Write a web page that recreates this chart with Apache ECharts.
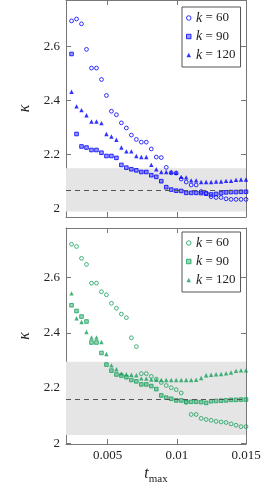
<!DOCTYPE html>
<html>
<head>
<meta charset="utf-8">
<script src="https://cdn.jsdelivr.net/npm/echarts@6/dist/echarts.min.js"></script>
<style>html,body{margin:0;padding:0;background:#fff;}#c{width:268px;height:498px;}</style>
</head>
<body>
<div id="c"></div>
<script>
// ---- data ----
const tmax = [0.00240,0.00276,0.00312,0.00348,0.00384,0.00420,0.00456,0.00492,0.00528,0.00564,
  0.00600,0.00636,0.00672,0.00708,0.00744,0.00780,0.00816,0.00852,0.00888,0.00924,
  0.00960,0.00996,0.01032,0.01068,0.01104,0.01140,0.01176,0.01212,0.01248,0.01284,
  0.01320,0.01356,0.01392,0.01428,0.01464,0.01500];
const topK60 = [2.693,2.700,2.682,2.588,2.519,2.519,2.477,2.418,2.360,2.347,2.317,2.298,2.272,2.256,2.246,2.246,2.221,2.191,2.189,2.153,2.133,2.132,2.110,2.099,2.088,2.088,2.064,2.058,2.045,2.042,2.042,2.037,2.035,2.035,2.035,2.035];
const topK90 = [2.571,2.276,2.230,2.226,2.217,2.217,2.207,2.195,2.195,2.188,2.162,2.152,2.146,2.142,2.136,2.136,2.124,2.118,2.102,2.080,2.071,2.067,2.066,2.059,2.059,2.059,2.058,2.056,2.053,2.055,2.058,2.061,2.062,2.062,2.063,2.063];
const topK120 = [2.432,2.378,2.364,2.345,2.322,2.322,2.316,2.276,2.267,2.255,2.226,2.212,2.212,2.195,2.191,2.191,2.162,2.146,2.136,2.136,2.136,2.133,2.118,2.116,2.105,2.105,2.099,2.099,2.099,2.101,2.101,2.103,2.103,2.107,2.108,2.108];
const botK60 = [2.721,2.713,2.670,2.648,2.580,2.580,2.549,2.538,2.507,2.489,2.468,2.455,2.382,2.350,2.252,2.252,2.242,2.232,2.220,2.209,2.201,2.194,2.182,2.148,2.104,2.104,2.090,2.086,2.083,2.079,2.077,2.075,2.070,2.065,2.060,2.060];
const botK90 = [2.500,2.479,2.459,2.441,2.365,2.365,2.327,2.285,2.263,2.249,2.245,2.239,2.229,2.224,2.213,2.213,2.207,2.196,2.173,2.165,2.161,2.155,2.155,2.150,2.150,2.150,2.149,2.146,2.152,2.153,2.154,2.155,2.157,2.157,2.158,2.158];
const botK120 = [2.543,2.453,2.439,2.403,2.383,2.383,2.367,2.323,2.282,2.268,2.253,2.250,2.248,2.246,2.235,2.234,2.231,2.230,2.229,2.229,2.229,2.229,2.229,2.229,2.229,2.230,2.236,2.246,2.248,2.250,2.251,2.253,2.256,2.262,2.264,2.264];
const kLabels = ['60','90','120'];
const xTicks = [0.005, 0.01, 0.015];
const yTicks = [2, 2.2, 2.4, 2.6];
const bandTop = [1.99, 2.15];
const meanTop = 2.07;
const bandBot = [2.03, 2.295];
const meanBot = 2.163;

// ---- styling ----
const blue = '#0000ff', blueLight = 'rgba(0,0,255,0.5)';
const green = '#16a05c', greenLight = 'rgba(22,160,92,0.55)';
const frame = '#777';
const font = 'Liberation Serif';

function pts(vals){ return tmax.map((t,i)=>[t, vals[i]]); }

function xAx(gi, pos, labels){
  return {
    type:'value', gridIndex:gi, position:pos, min:0.002, max:0.015,
    axisLine:{show:true, onZero:false, lineStyle:{color:frame, width:1}},
    axisTick:{show:true, inside:true, length:5, customValues:xTicks, lineStyle:{color:frame}},
    axisLabel:{show:labels, customValues:xTicks, margin:5, fontFamily:font, fontSize:13, color:'#222', showMaxLabel:true, showMinLabel:true},
    splitLine:{show:false}
  };
}
function yAx(gi, pos, labels, mn, mx){
  const a = {
    type:'value', gridIndex:gi, position:pos, min:mn, max:mx,
    axisLine:{show:true, onZero:false, lineStyle:{color:frame, width:1}},
    axisTick:{show:true, inside:true, length:5, customValues:yTicks, lineStyle:{color:frame}},
    axisLabel:{show:labels, customValues:yTicks, margin:6, fontFamily:font, fontSize:13, color:'#222'},
    splitLine:{show:false}
  };
  if (labels){
    a.name = 'κ'; a.nameLocation='middle'; a.nameGap=31; a.nameRotate=90;
    a.nameTextStyle = {fontFamily:font, fontSize:16, fontStyle:'italic', color:'#222'};
  }
  return a;
}

function panelSeries(prefix, arrs, color, light, ai, band, mean){
  return [
    { type:'line', xAxisIndex:ai, yAxisIndex:ai, data:[], z:1, silent:true,
      markArea:{silent:true, itemStyle:{color:'#e5e5e5'}, data:[[{yAxis:band[0]},{yAxis:band[1]}]]},
      markLine:{silent:true, symbol:'none', label:{show:false},
        lineStyle:{color:'#555', type:[5,4], width:1.2}, data:[{yAxis:mean}]} },
    { name:prefix+kLabels[0], type:'scatter', xAxisIndex:ai, yAxisIndex:ai, z:3,
      symbol:'circle', symbolSize:3.8, data:pts(arrs[0]),
      itemStyle:{color:'rgba(0,0,0,0)', borderColor:color, borderWidth:1} },
    { name:prefix+kLabels[1], type:'scatter', xAxisIndex:ai, yAxisIndex:ai, z:3,
      symbol:'rect', symbolSize:3.6, data:pts(arrs[1]),
      itemStyle:{color:light, borderColor:color, borderWidth:1} },
    { name:prefix+kLabels[2], type:'scatter', xAxisIndex:ai, yAxisIndex:ai, z:3,
      symbol:'triangle', symbolSize:4.4, data:pts(arrs[2]),
      itemStyle:{color:color} }
  ];
}

function legend(prefix, color, light, top){
  return {
    left:182, top:top, orient:'vertical', itemGap:4.5, itemWidth:4.5, itemHeight:4.5,
    padding:[4,5,5,4], borderColor:'#555', borderWidth:1, backgroundColor:'#fff',
    selectedMode:false,
    data:[
      {name:prefix+kLabels[0], icon:'circle', itemStyle:{color:'rgba(0,0,0,0)', borderColor:color, borderWidth:1}},
      {name:prefix+kLabels[1], icon:'rect', itemStyle:{color:light, borderColor:color, borderWidth:1}},
      {name:prefix+kLabels[2], icon:'triangle', itemStyle:{color:color, borderWidth:0}}
    ],
    formatter:function(n){ return '{i|k} = ' + n.slice(1); },
    textStyle:{fontFamily:font, fontSize:13, color:'#222', lineHeight:13,
      rich:{i:{fontFamily:font, fontStyle:'italic', fontSize:14, color:'#222'}}}
  };
}

const chart = echarts.init(document.getElementById('c'), null, {renderer:'canvas'});

const xb = xAx(1,'bottom',true);
xb.name = '{t|t}{s|max}';
xb.nameLocation = 'middle';
xb.nameGap = 22;
xb.nameTextStyle = {fontFamily:font, color:'#222', rich:{
  t:{fontFamily:font, fontStyle:'italic', fontSize:16, color:'#222', verticalAlign:'top'},
  s:{fontFamily:font, fontSize:11, color:'#222', padding:[8,0,0,0], verticalAlign:'top'}}};

chart.setOption({
  animation:false,
  backgroundColor:'#fff',
  grid:[
    {left:66, top:-1, width:180, height:218},
    {left:66, top:228, width:180, height:216}
  ],
  xAxis:[ xAx(0,'bottom',false), xb, xAx(0,'top',false), xAx(1,'top',false) ],
  yAxis:[ yAx(0,'left',true,1.97,2.77), yAx(1,'left',true,1.997,2.78), yAx(0,'right',false,1.97,2.77), yAx(1,'right',false,1.997,2.78) ],
  legend:[ legend('a', blue, blueLight, 7), legend('b', green, greenLight, 232) ],
  series: panelSeries('a', [topK60, topK90, topK120], blue, blueLight, 0, bandTop, meanTop)
    .concat(panelSeries('b', [botK60, botK90, botK120], green, greenLight, 1, bandBot, meanBot))
});
</script>
</body>
</html>
